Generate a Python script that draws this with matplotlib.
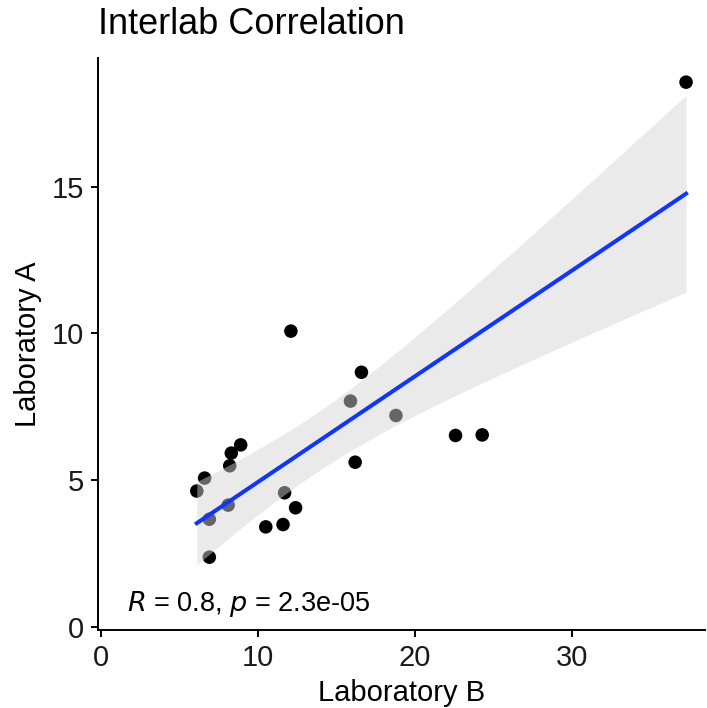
import matplotlib
matplotlib.use('Agg')
import matplotlib.pyplot as plt
import numpy as np

plt.rcParams['font.family'] = ['Liberation Sans', 'DejaVu Sans']

# Valeurs
lab_b = np.array([37.3, 12.1, 16.6, 15.9, 18.8, 22.6, 24.3, 16.2, 8.9, 8.3,
                  8.2, 6.6, 6.1, 8.1, 11.7, 12.4, 11.6, 10.5, 6.9, 6.9])
lab_a = np.array([18.55, 10.08, 8.68, 7.70, 7.21, 6.53, 6.55, 5.62, 6.21, 5.93,
                  5.50, 5.08, 4.64, 4.16, 4.58, 4.07, 3.50, 3.42, 3.68, 2.39])

title = 'Interlab Correlation'
stat_label = r'$R$ = 0.8, $p$ = 2.3e-05'

# Regression lineaire + intervalle de confiance 95 %
n = len(lab_b)
slope, intercept = np.polyfit(lab_b, lab_a, 1)
xs = np.linspace(lab_b.min(), lab_b.max(), 80)
ys = intercept + slope * xs
resid = lab_a - (intercept + slope * lab_b)
s_err = np.sqrt(np.sum(resid ** 2) / (n - 2))
t_val = 2.101  # t(0.975, df=18)
se = s_err * np.sqrt(1.0 / n + (xs - lab_b.mean()) ** 2 / np.sum((lab_b - lab_b.mean()) ** 2))

fig = plt.figure(figsize=(7.07, 7.08), dpi=100)
ax = fig.add_axes([0.1386, 0.1105, 0.8584, 0.8075])

ax.scatter(lab_b, lab_a, s=95, c='black', edgecolors='none', zorder=2)
ax.fill_between(xs, ys - t_val * se, ys + t_val * se, color='#d5d5d5', alpha=0.48,
                linewidth=0, zorder=3)
ax.plot(xs, ys, color='#1035ff', linewidth=2.9, zorder=4)

ax.text(1.66, 0.55, stat_label, fontsize=19.5, ha='left', va='baseline')

ax.set_xlim(-0.2, 38.5)
ax.set_ylim(-0.08, 19.37)
ax.set_xticks([0, 10, 20, 30])
ax.set_yticks([0, 5, 10, 15])

for side in ['top', 'right']:
    ax.spines[side].set_visible(False)
for side in ['left', 'bottom']:
    ax.spines[side].set_linewidth(1.4)
ax.tick_params(axis='both', labelsize=21, length=5, width=1.4, color='black',
               labelcolor='#1a1a1a', pad=5)

ax.set_xlabel('Laboratory B', fontsize=21, labelpad=5)
ax.set_ylabel('Laboratory A', fontsize=21, labelpad=7)
ax.set_title(title, fontsize=26, loc='left', x=0.0, pad=17)

plt.savefig('out.png', dpi=100)
